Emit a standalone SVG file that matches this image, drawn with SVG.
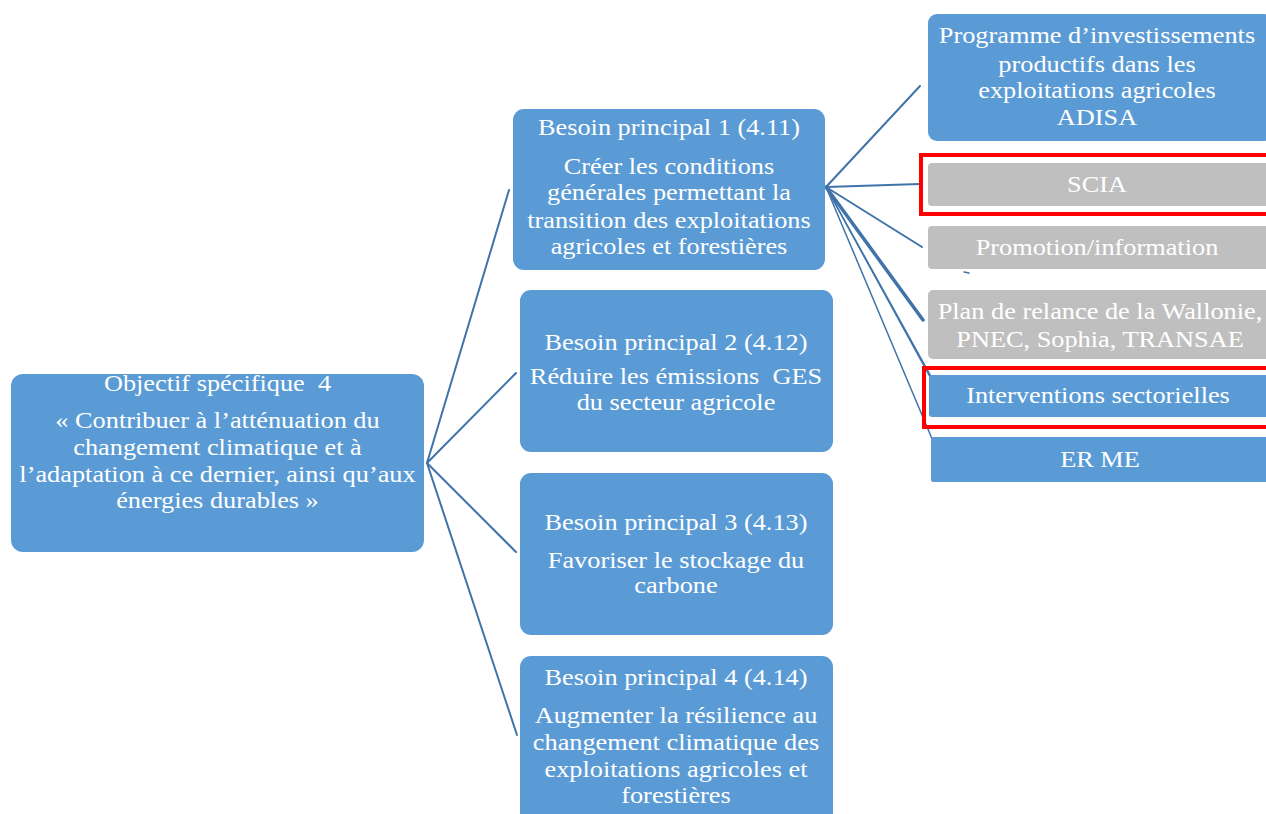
<svg xmlns="http://www.w3.org/2000/svg" width="1266" height="814" viewBox="0 0 1266 814">
<style>
.blue{fill:#5B9BD5}
.gray{fill:#BFBFBF}
.red{fill:none;stroke:#FF0000;stroke-width:4}
.t{font-family:"Liberation Serif","Times New Roman",serif;font-size:23.5px;fill:#FFFFFF;text-anchor:middle;white-space:pre}
.c line{stroke:#3F73A9;stroke-width:2;stroke-linecap:round}
</style>
<rect width="1266" height="814" fill="#FFFFFF"/>
<g class="c" id="connectors">
<line x1="427" y1="463" x2="509" y2="190"/>
<line x1="427" y1="463" x2="516" y2="373"/>
<line x1="427" y1="463" x2="516" y2="552"/>
<line x1="427" y1="463" x2="517" y2="735"/>
<line x1="826" y1="187" x2="920" y2="86"/>
<line x1="826" y1="187" x2="920" y2="184"/>
<line x1="826" y1="187" x2="922" y2="247"/>
<line x1="826" y1="187" x2="923" y2="320" style="stroke-width:3.5"/>
<line x1="826" y1="187" x2="935" y2="386" style="stroke-width:1.5"/>
<line x1="826" y1="187" x2="938" y2="389" style="stroke-width:1.5"/>
<line x1="826" y1="187" x2="938" y2="453" style="stroke-width:1.5"/>
<line x1="964" y1="272" x2="969" y2="273" style="stroke-width:1.5"/>
</g>
<g id="objectif">
<rect class="blue" x="11" y="374" width="413" height="178" rx="12"/>
<g class="t" transform="translate(-26.1,0) scale(1.12,1)">
<text x="217.5" y="391" xml:space="preserve">Objectif spécifique  4</text>
<text x="217.5" y="428">« Contribuer à l’atténuation du</text>
<text x="217.5" y="455">changement climatique et à</text>
<text x="217.5" y="482">l’adaptation à ce dernier, ainsi qu’aux</text>
<text x="217.5" y="508">énergies durables »</text>
</g>
</g>
<g id="besoin1">
<rect class="blue" x="513" y="109" width="312" height="161" rx="11"/>
<g class="t" transform="translate(-80.28,0) scale(1.12,1)">
<text x="669" y="135">Besoin principal 1 (4.11)</text>
<text x="669" y="174">Créer les conditions</text>
<text x="669" y="200">générales permettant la</text>
<text x="669" y="228">transition des exploitations</text>
<text x="669" y="254">agricoles et forestières</text>
</g>
</g>
<g id="besoin2">
<rect class="blue" x="520" y="290" width="313" height="162" rx="11"/>
<g class="t" transform="translate(-81.12,0) scale(1.12,1)">
<text x="676" y="350">Besoin principal 2 (4.12)</text>
<text x="676" y="384" xml:space="preserve">Réduire les émissions  GES</text>
<text x="676" y="410">du secteur agricole</text>
</g>
</g>
<g id="besoin3">
<rect class="blue" x="520" y="473" width="313" height="162" rx="11"/>
<g class="t" transform="translate(-81.12,0) scale(1.12,1)">
<text x="676" y="530">Besoin principal 3 (4.13)</text>
<text x="676" y="568">Favoriser le stockage du</text>
<text x="676" y="593">carbone</text>
</g>
</g>
<g id="besoin4">
<rect class="blue" x="520" y="656" width="313" height="168" rx="11"/>
<g class="t" transform="translate(-81.12,0) scale(1.12,1)">
<text x="676" y="685">Besoin principal 4 (4.14)</text>
<text x="676" y="723">Augmenter la résilience au</text>
<text x="676" y="750">changement climatique des</text>
<text x="676" y="777">exploitations agricoles et</text>
<text x="676" y="803">forestières</text>
</g>
</g>
<g id="programme">
<rect class="blue" x="928" y="14" width="345" height="127" rx="9"/>
<g class="t" transform="translate(-131.64,0) scale(1.12,1)">
<text x="1097" y="43">Programme d’investissements</text>
<text x="1097" y="72">productifs dans les</text>
<text x="1097" y="98">exploitations agricoles</text>
<text x="1097" y="125">ADISA</text>
</g>
</g>
<g id="scia">
<rect class="gray" x="928" y="163" width="345" height="43" rx="4"/>
<rect class="red" x="921" y="155" width="360" height="59"/>
<g class="t" transform="translate(-131.64,0) scale(1.12,1)">
<text x="1097" y="192">SCIA</text>
</g>
</g>
<g id="promotion">
<rect class="gray" x="928" y="226" width="345" height="43" rx="4"/>
<g class="t" transform="translate(-131.64,0) scale(1.12,1)">
<text x="1097" y="255">Promotion/information</text>
</g>
</g>
<g id="plan">
<rect class="gray" x="928" y="290" width="345" height="69" rx="5"/>
<g class="t" transform="translate(-132,0) scale(1.12,1)">
<text x="1100" y="319">Plan de relance de la Wallonie,</text>
<text x="1100" y="347">PNEC, Sophia, TRANSAE</text>
</g>
</g>
<g id="interventions">
<rect class="blue" x="929" y="375" width="345" height="42" rx="3"/>
<rect class="red" x="924" y="368" width="360" height="59"/>
<g class="t" transform="translate(-131.76,0) scale(1.12,1)">
<text x="1098" y="403">Interventions sectorielles</text>
</g>
</g>
<g id="erme">
<rect class="blue" x="931" y="437" width="345" height="45" rx="2"/>
<g class="t" transform="translate(-132,0) scale(1.12,1)">
<text x="1100" y="467" xml:space="preserve">ER ME</text>
</g>
</g>
</svg>
